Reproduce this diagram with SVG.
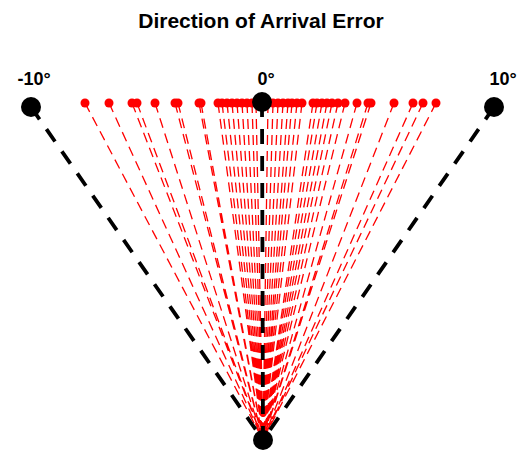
<svg xmlns="http://www.w3.org/2000/svg" width="527" height="451" viewBox="0 0 527 451">
<style>
text{font-family:"Liberation Sans",Arial,sans-serif;font-weight:bold;fill:#000}
.t{font-size:21px}
.l{font-size:18px}
.r{stroke:#ff0000;stroke-width:1.3;stroke-dasharray:10 6;fill:none}
.k{stroke:#000;stroke-width:3.8;stroke-dasharray:15 12;fill:none}
.rd{fill:#ff0000}
.bd{fill:#000}
</style>
<rect width="527" height="451" fill="#fff"/>
<text class="t" x="261" y="28" text-anchor="middle">Direction of Arrival Error</text>
<g id="connectors">
<g id="red-lines">
<path class="r" d="M85 103L263 440M109 103L263 440M132 103L263 440M137 103L263 440M155 103L263 440M175 103L263 440M178 103L263 440M199 103L263 440M201 103L263 440M218 103L263 440M222 103L263 440M227 103L263 440M232 103L263 440M237 103L263 440M242 103L263 440M247 103L263 440M252 103L263 440M256 103L263 440M268 103L263 440M273 103L263 440M278 103L263 440M283 103L263 440M288 103L263 440M292 103L263 440M297 103L263 440M302 103L263 440M313 103L263 440M317 103L263 440M322 103L263 440M327 103L263 440M332 103L263 440M338 103L263 440M345 103L263 440M357 103L263 440M368 103L263 440M371 103L263 440M394 103L263 440M413 103L263 440M423 103L263 440M436 103L263 440"/>
</g>
<g id="black-lines">
<path class="k" d="M31 107L263 440M262 102L263 440M494 107L263 440"/>
</g>
</g>
<g id="red-dots" class="rd">
<circle cx="85" cy="103" r="4.5"/><circle cx="109" cy="103" r="4.5"/><circle cx="132" cy="103" r="4.5"/><circle cx="137" cy="103" r="4.5"/><circle cx="155" cy="103" r="4.5"/><circle cx="175" cy="103" r="4.5"/><circle cx="178" cy="103" r="4.5"/><circle cx="199" cy="103" r="4.5"/><circle cx="201" cy="103" r="4.5"/><circle cx="218" cy="103" r="4.5"/><circle cx="222" cy="103" r="4.5"/><circle cx="227" cy="103" r="4.5"/><circle cx="232" cy="103" r="4.5"/><circle cx="237" cy="103" r="4.5"/><circle cx="242" cy="103" r="4.5"/><circle cx="247" cy="103" r="4.5"/><circle cx="252" cy="103" r="4.5"/><circle cx="256" cy="103" r="4.5"/><circle cx="268" cy="103" r="4.5"/><circle cx="273" cy="103" r="4.5"/><circle cx="278" cy="103" r="4.5"/><circle cx="283" cy="103" r="4.5"/><circle cx="288" cy="103" r="4.5"/><circle cx="292" cy="103" r="4.5"/><circle cx="297" cy="103" r="4.5"/><circle cx="302" cy="103" r="4.5"/><circle cx="313" cy="103" r="4.5"/><circle cx="317" cy="103" r="4.5"/><circle cx="322" cy="103" r="4.5"/><circle cx="327" cy="103" r="4.5"/><circle cx="332" cy="103" r="4.5"/><circle cx="338" cy="103" r="4.5"/><circle cx="345" cy="103" r="4.5"/><circle cx="357" cy="103" r="4.5"/><circle cx="368" cy="103" r="4.5"/><circle cx="371" cy="103" r="4.5"/><circle cx="394" cy="103" r="4.5"/><circle cx="413" cy="103" r="4.5"/><circle cx="423" cy="103" r="4.5"/><circle cx="436" cy="103" r="4.5"/>
</g>
<g id="node-minus10">
<circle class="bd" cx="31" cy="107" r="10"/>
<text class="l" x="34" y="85" text-anchor="middle">-10°</text>
</g>
<g id="node-0">
<circle class="bd" cx="262" cy="102" r="10"/>
<text class="l" x="266" y="85" text-anchor="middle">0°</text>
</g>
<g id="node-10">
<circle class="bd" cx="494" cy="107" r="10"/>
<text class="l" x="503" y="85" text-anchor="middle">10°</text>
</g>
<g id="node-apex">
<circle class="bd" cx="263" cy="440" r="10"/>
</g>
</svg>
